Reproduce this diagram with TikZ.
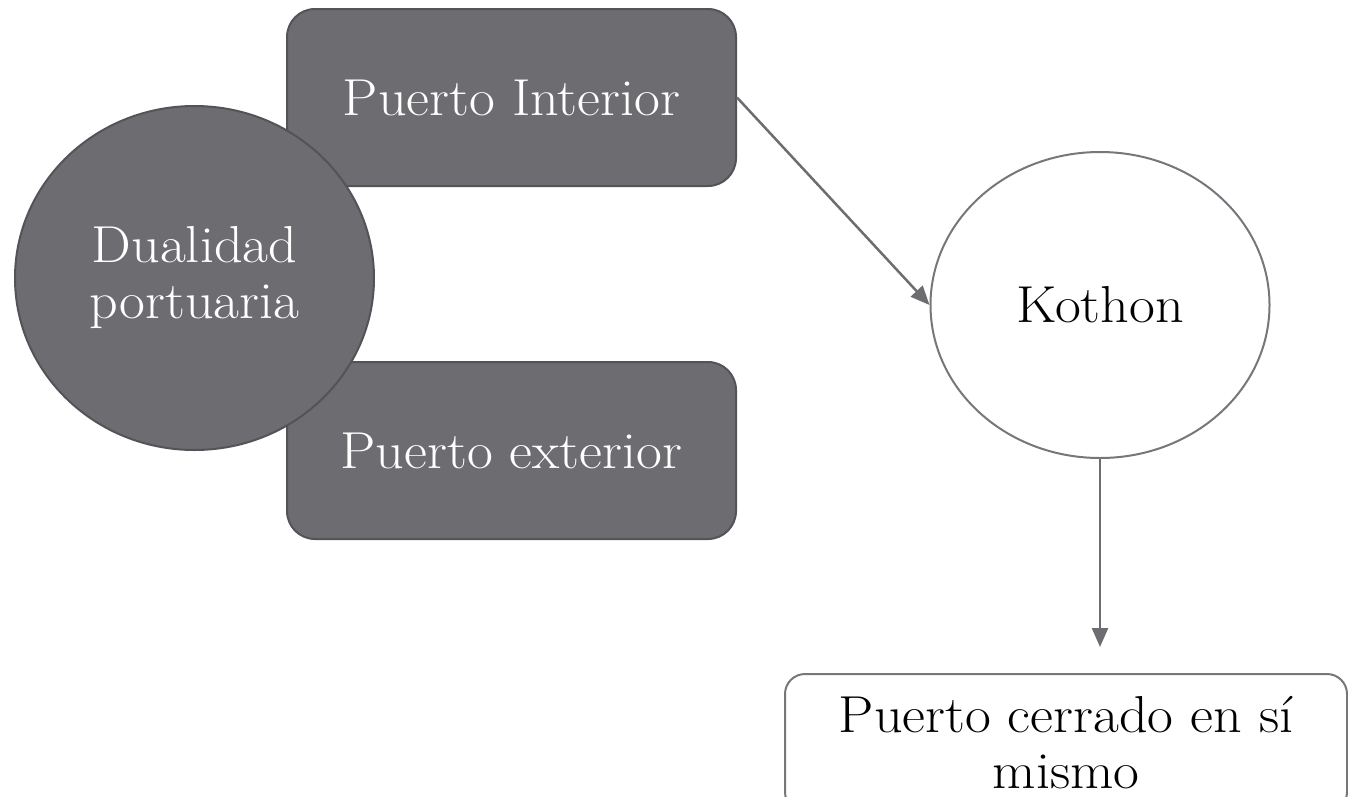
\documentclass[tikz,border=0pt]{standalone}
\usepackage{fontspec}
\setmainfont{Latin Modern Roman}[FakeStretch=1.08]
\usetikzlibrary{shapes.geometric,arrows.meta}
\definecolor{darkfill}{HTML}{6D6C71}
\definecolor{darkline}{HTML}{545357}
\definecolor{lightline}{HTML}{77767B}
\begin{document}
\begin{tikzpicture}[x=1pt,y=-1pt,
  bigfont/.style={font=\fontsize{52}{56}\selectfont},
  darkbox/.style={draw=darkline,line width=2pt,fill=darkfill,rounded corners=28pt,
    minimum width=449pt,minimum height=177pt,inner sep=0pt,text=white,bigfont},
  darkcirc/.style={ellipse,draw=darkline,line width=2pt,fill=darkfill,
    minimum width=359pt,minimum height=344pt,inner sep=0pt,text=white,bigfont,align=center},
  lightell/.style={ellipse,draw=lightline,line width=2pt,fill=white,
    minimum width=339pt,minimum height=306pt,inner sep=0pt,text=black,bigfont},
  lightbox/.style={draw=lightline,line width=2pt,fill=white,rounded corners=20pt,
    minimum width=562pt,minimum height=138pt,inner sep=0pt,text=black,bigfont,align=center},
  conn/.style={draw=darkfill,line width=2.5pt,-{Triangle[length=19pt,width=16pt]}}
]
\useasboundingbox (0,0) rectangle (1348,796);
\node[darkbox] (pi) at (511.5,97.5) {Puerto Interior};
\node[darkbox] (pe) at (511.5,450.5) {Puerto exterior};
\node[darkcirc] (dp) at (194.5,278) {Dualidad\\portuaria};
\node[lightell] (k) at (1100,305) {Kothon};
\node[lightbox] (pc) at (1066,743) {Puerto cerrado en sí\\mismo};
\coordinate (tip) at ([yshift=26pt]pc.north -| k.south);
\draw[conn] (pi.east) -- (k.west);
\draw[conn] (k.south) -- (tip);
\end{tikzpicture}
\end{document}
